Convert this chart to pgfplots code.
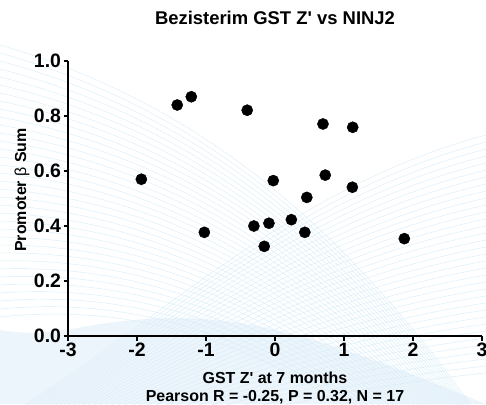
\documentclass[border=0pt]{standalone}
\usepackage{pgfplots}
\pgfplotsset{compat=1.18}
\usepackage{fontspec}
\setmainfont{Liberation Sans}

\definecolor{wave}{RGB}{218,237,248}
\definecolor{wavefill}{RGB}{236,245,251}

\begin{document}
\begin{tikzpicture}[x=1bp,y=1bp]
% faint wave pattern behind the plot (pixel-style coordinates, y downwards)
\begin{scope}[shift={(0,404)}, yscale=-1]
  \fill[wavefill] (0,330) .. controls (60,340) and (80,320) .. (170,318)
        .. controls (260,318) and (330,340) .. (486,404) -- (0,404) -- cycle;
  \foreach \i in {0,...,34}{
    \draw[wave, line width=0.45bp]
      (0,{45+8*\i}) .. controls (170,{95+6*\i}) and (320,{195+5*\i}) .. (470,{404+3*\i});
  }
  \foreach \i in {0,...,34}{
    \draw[wave, line width=0.45bp]
      (0,{420+2*\i}) .. controls (140,{340+3*\i}) and (280,{190+6*\i}) .. (486,{135+7*\i});
  }
\end{scope}

\begin{axis}[
  at={(68bp,68bp)}, anchor=south west,
  scale only axis, width=414bp, height=275bp,
  xmin=-3, xmax=3, ymin=0, ymax=1,
  axis x line=bottom, axis y line=left,
  axis line style={-, line width=1.8bp, black},
  xtick={-3,-2,-1,0,1,2,3},
  ytick={0,0.2,0.4,0.6,0.8,1.0},
  tick align=outside,
  major tick length=4.5bp,
  tick style={black, line width=1.4bp},
  minor tick num=0,
  ticklabel style={font=\fontsize{19.5}{22}\selectfont\bfseries},
  /pgf/number format/assume math mode=true,
  yticklabel style={/pgf/number format/fixed, /pgf/number format/fixed zerofill,
                    /pgf/number format/precision=1, xshift=1bp},
  xticklabel style={yshift=1bp},
  title={Bezisterim GST Z\textquotesingle\ vs NINJ2},
  title style={font=\fontsize{18.5}{22}\selectfont\bfseries,
               at={(axis description cs:0.5,1.136)}, anchor=center},
  xlabel={GST Z\textquotesingle\ at 7 months\\Pearson R = -0.25, P = 0.32, N = 17},
  xlabel style={font=\fontsize{16}{19}\selectfont\bfseries, align=center,
                at={(axis description cs:0.5,-0.189)}, anchor=center},
  ylabel={Promoter {\mdseries β} Sum},
  ylabel style={font=\fontsize{16}{19}\selectfont\bfseries,
                at={(axis description cs:-0.111,0.531)}, anchor=center},
  clip=false,
]
\addplot[only marks, mark=*, mark size=5.6bp, black] table {
x y
-1.417 0.840
-1.213 0.870
-0.403 0.821
0.695 0.771
-1.937 0.570
-0.025 0.565
0.728 0.585
0.461 0.504
-1.024 0.377
-0.306 0.400
-0.088 0.410
0.237 0.423
0.432 0.377
-0.156 0.326
1.126 0.759
1.121 0.541
1.874 0.354
};
\end{axis}
\pgfresetboundingbox
\useasboundingbox (0,0) rectangle (486,404);
\end{tikzpicture}
\end{document}
